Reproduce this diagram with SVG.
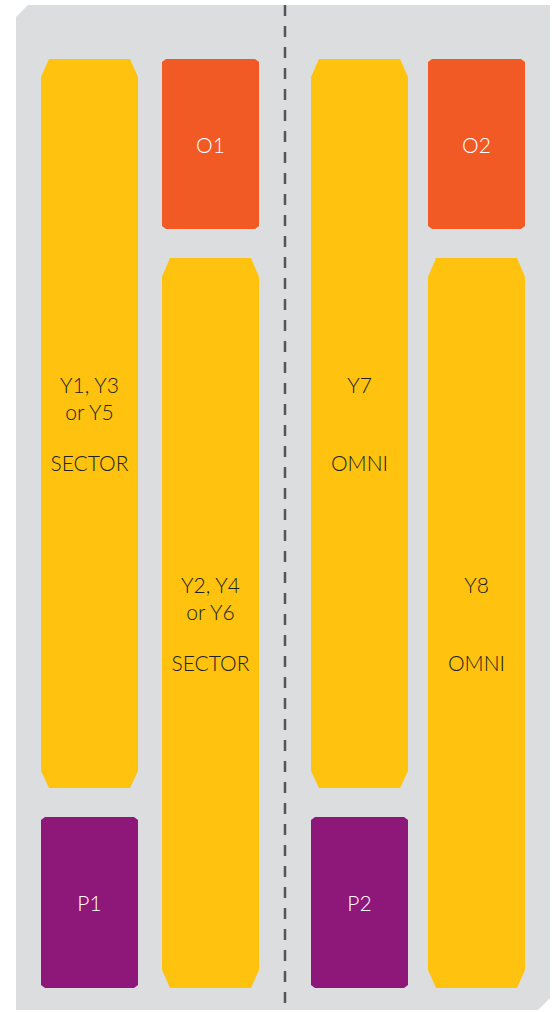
<svg xmlns="http://www.w3.org/2000/svg" width="553" height="1012" viewBox="0 0 553 1012">
<style>
.y{fill:#fec20f}
.o{fill:#f15a24}
.p{fill:#8d187a}
.t{font-family:Lato,"Noto Sans",sans-serif;font-size:21px;font-weight:300;text-anchor:middle}
.d{fill:#222222}
.w{fill:#ffffff}
</style>
<rect width="553" height="1012" fill="#ffffff"/>
<polygon points="28,5 550,5 550,998 538,1010 16,1010 16,17" fill="#dcdddf"/>
<g id="connectors">
<line x1="285" y1="5" x2="285" y2="1012" stroke="#555" stroke-width="2.5" stroke-dasharray="11,10"/>
</g>
<g id="Y135">
<polygon class="y" points="49,59 130,59 138,77 138,771 130,788 49,788 41,771 41,77"/>
<text class="t d" x="89.5" y="393">Y1, Y3</text>
<text class="t d" x="89.5" y="420">or Y5</text>
<text class="t d" x="89.5" y="471">SECTOR</text>
</g>
<g id="O1">
<polygon class="o" points="166,59 255,59 259,62 259,226 255,229 166,229 162,226 162,62"/>
<text class="t w" x="210.5" y="153">O1</text>
</g>
<g id="Y246">
<polygon class="y" points="170,258 251,258 259,277 259,970 251,988 170,988 162,970 162,277"/>
<text class="t d" x="210.5" y="593">Y2, Y4</text>
<text class="t d" x="210.5" y="620">or Y6</text>
<text class="t d" x="210.5" y="671">SECTOR</text>
</g>
<g id="P1">
<polygon class="p" points="45,817 134,817 138,820 138,985 134,988 45,988 41,985 41,820"/>
<text class="t w" x="89.5" y="911">P1</text>
</g>
<g id="Y7">
<polygon class="y" points="319,59 400,59 408,77 408,771 400,788 319,788 311,771 311,77"/>
<text class="t d" x="359.5" y="393">Y7</text>
<text class="t d" x="359.5" y="471">OMNI</text>
</g>
<g id="O2">
<polygon class="o" points="432,59 521,59 525,62 525,226 521,229 432,229 428,226 428,62"/>
<text class="t w" x="476.5" y="153">O2</text>
</g>
<g id="Y8">
<polygon class="y" points="436,258 517,258 525,277 525,970 517,988 436,988 428,970 428,277"/>
<text class="t d" x="476.5" y="593">Y8</text>
<text class="t d" x="476.5" y="671">OMNI</text>
</g>
<g id="P2">
<polygon class="p" points="315,817 404,817 408,820 408,985 404,988 315,988 311,985 311,820"/>
<text class="t w" x="359.5" y="911">P2</text>
</g>
</svg>
